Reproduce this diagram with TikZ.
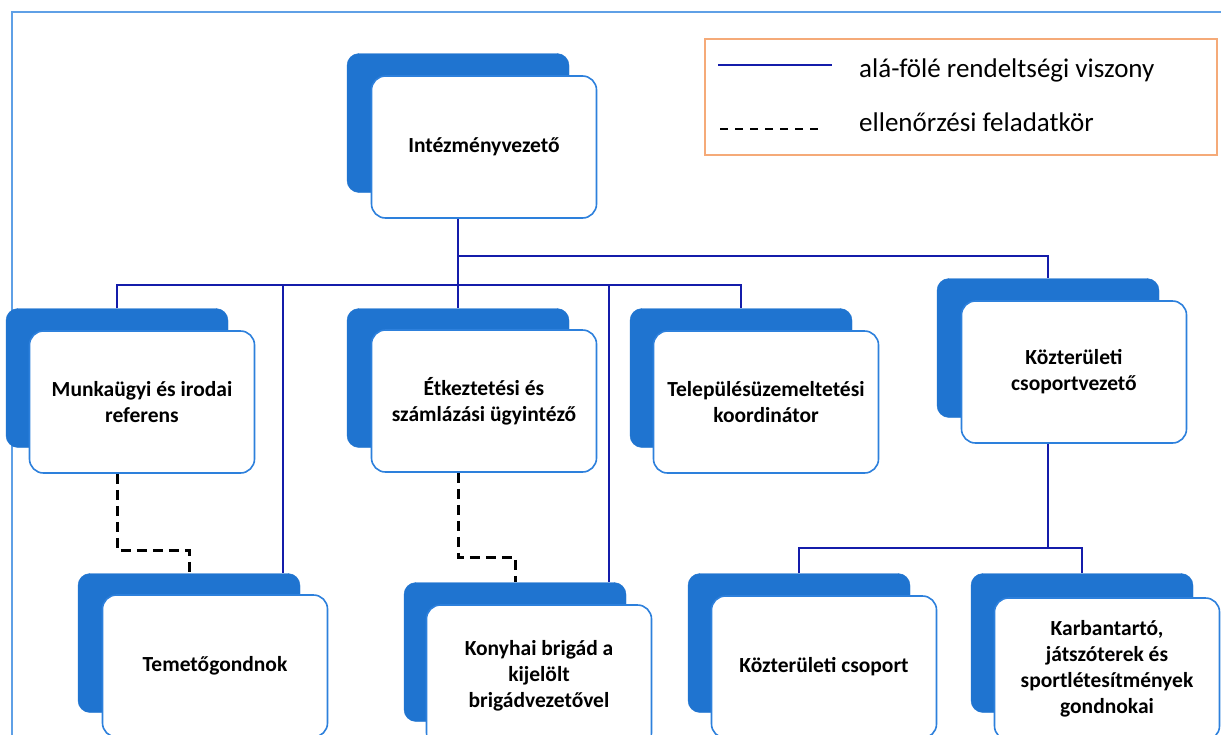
\documentclass[tikz,border=0pt]{standalone}
\usepackage{fontspec}
\setmainfont{Carlito}
\definecolor{boxdark}{RGB}{31,116,208}
\definecolor{boxedge}{RGB}{45,128,220}
\definecolor{conn}{RGB}{20,28,170}
\definecolor{framec}{RGB}{95,160,230}
\definecolor{legedge}{RGB}{245,170,120}
\tikzset{
 backbox/.style={fill=boxdark, draw=boxdark, rounded corners=12pt, minimum width=222pt, minimum height=139pt, inner sep=0pt},
 frontbox/.style={fill=white, draw=boxedge, line width=1.6pt, rounded corners=14pt, minimum width=225pt, minimum height=142pt, inner sep=0pt, align=center, font=\fontsize{21.5}{26}\selectfont\bfseries},
 link/.style={draw=conn, line width=1.8pt},
 ctrl/.style={draw=black, line width=3pt, dash pattern=on 10pt off 6pt},
 legtext/.style={anchor=base west, inner sep=0pt, font=\fontsize{27}{32}\selectfont},
}
\begin{document}
\begin{tikzpicture}[x=1pt,y=-1pt]
\useasboundingbox (0,0) rectangle (1221,734);
\fill[white] (0,0) rectangle (1221,734);
\draw[framec, line width=1.8pt] (12,740) -- (12,12) -- (1225,12);

% helper coordinates
\coordinate (h1) at (0,285);
\coordinate (h2) at (0,256);
\coordinate (h3) at (0,548);
\coordinate (d1) at (0,550);
\coordinate (d2) at (0,557);
\coordinate (vT) at (283,0);
\coordinate (vK) at (609,0);

% back boxes
\node[backbox] (ivb) at (458,123) {};
\node[backbox] (mrb) at (117,378) {};
\node[backbox] (ekb) at (458,378) {};
\node[backbox] (tkb) at (741,378) {};
\node[backbox] (kvb) at (1048,348) {};
\node[backbox] (tgb) at (189,643) {};
\node[backbox] (kbb) at (515,652) {};
\node[backbox] (kcb) at (799,643) {};
\node[backbox] (kab) at (1082,643) {};

% front boxes
\node[frontbox] (iv) at (484,147) {Intézményvezető};
\node[frontbox] (mr) at (142,402) {Munkaügyi és irodai\\referens};
\node[frontbox] (ek) at (484,401) {Étkeztetési és\\számlázási ügyintéző};
\node[frontbox] (tk) at (766,402) {Településüzemeltetési\\koordinátor};
\node[frontbox] (kv) at (1074,372) {Közterületi\\csoportvezető};
\node[frontbox] (tg) at (215,666) {Temetőgondnok};
\node[frontbox] (kb) at (539,676) {Konyhai brigád a\\kijelölt\\brigádvezetővel};
\node[frontbox] (kc) at (824,667) {Közterületi csoport};
\node[frontbox] (ka) at (1107,669) {Karbantartó,\\játszóterek és\\sportlétesítmények\\gondnokai};

% solid connectors
\draw[link] (ivb.center |- iv.south) -- (ekb.north);
\draw[link] (mrb.north) -- (mrb.north |- h1) -- (tkb.north |- h1) -- (tkb.north);
\draw[link] (ivb.center |- h2) -- (kvb.north |- h2) -- (kvb.north);
\draw[link] (vT |- h1) -- (vT |- tgb.north);
\draw[link] (vK |- h1) -- (vK |- kbb.north);
\draw[link] (kvb.center |- kv.south) -- (kvb.center |- h3);
\draw[link] (kcb.north) -- (kcb.north |- h3) -- (kab.north |- h3) -- (kab.north);

% dashed connectors
\draw[ctrl] (mrb.center |- mr.south) -- (mrb.center |- d1) -- (tgb.north |- d1) -- (tgb.north);
\draw[ctrl] (ekb.center |- ek.south) -- (ekb.center |- d2) -- (kbb.north |- d2) -- (kbb.north);

% legend
\node[draw=legedge, line width=1.2pt, minimum width=512pt, minimum height=116pt, inner sep=0pt] (leg) at (961,97) {};
\coordinate (la) at (718,65);
\coordinate (lb) at (832,65);
\coordinate (lc) at (720,129);
\coordinate (ld) at (822,129);
\draw[link] (la) -- (lb);
\draw[black, line width=2.4pt, dash pattern=on 8pt off 7pt] (lc) -- (ld);
\node[legtext] (t1) at (859,77) {alá-fölé rendeltségi viszony};
\node[legtext] (t2) at (859,131) {ellenőrzési feladatkör};
\end{tikzpicture}
\end{document}
